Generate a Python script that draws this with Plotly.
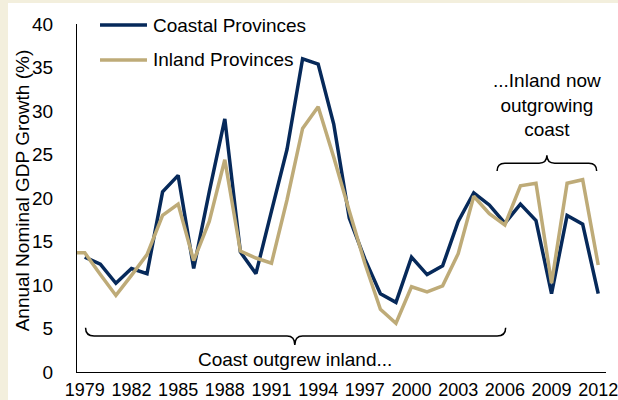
import plotly.graph_objects as go

# ==========================================================
# DATA
# ==========================================================
years = list(range(1978, 2013))
coastal = [None, 13.2, 12.4, 10.2, 11.9, 11.3, 20.7, 22.6, 11.9, 20.7, 29.1,
           13.8, 11.3, 18.5, 25.6, 36.0, 35.4, 28.5, 17.7, 13.0, 9.0,
           8.0, 13.2, 11.2, 12.2, 17.3, 20.6, 19.2, 17.1, 19.3, 17.4,
           9.0, 18.0, 17.0, 9.0]
inland = [13.7, 13.7, 11.2, 8.8, 11.1, 13.5, 18.0, 19.3, 12.8, 17.3, 24.4,
          13.9, 13.1, 12.5, 19.8, 28.0, 30.5, 24.7, 18.5, 12.5, 7.2,
          5.6, 9.8, 9.2, 9.9, 13.6, 20.2, 18.2, 16.9, 21.4, 21.7,
          10.2, 21.7, 22.1, 12.3]
tick_years = list(range(1979, 2013, 3))
y_ticks = [0, 5, 10, 15, 20, 25, 30, 35, 40]

NAVY = "#06295A"
GOLD = "#BEAB78"
CREAM = "#F3EFDD"
FONT = "Liberation Sans, Arial, sans-serif"
FS = 19

fig = go.Figure()

fig.add_trace(go.Scatter(
    x=years, y=coastal, mode="lines", name="Coastal Provinces",
    line=dict(color=NAVY, width=3.5), connectgaps=False
))
fig.add_trace(go.Scatter(
    x=years, y=inland, mode="lines", name="Inland Provinces",
    line=dict(color=GOLD, width=3.5)
))

# legend drawn by hand (keeps margins fixed)
for name, color, ly in [("Coastal Provinces", NAVY, 0.9971),
                        ("Inland Provinces", GOLD, 0.8966)]:
    fig.add_shape(type="line", xref="paper", yref="paper",
                  x0=0.0435, x1=0.1323, y0=ly, y1=ly,
                  line=dict(color=color, width=3.5))
    fig.add_annotation(x=0.1399, y=ly, xref="paper", yref="paper", showarrow=False,
                       xanchor="left", yanchor="middle", text=name,
                       font=dict(size=FS, color="black", family=FONT))

# braces
fig.add_shape(type="path", xref="x", yref="y",
              path="M 1979.05,5.1 Q 1979.05,4.15 1979.6,4.15 L 1992.0,4.15 "
                   "Q 1992.5,4.15 1992.5,3.1 Q 1992.5,4.15 1993.0,4.15 "
                   "L 2005.5,4.15 Q 2006.05,4.15 2006.05,5.1",
              line=dict(color="black", width=1.5))
fig.add_shape(type="path", xref="x", yref="y",
              path="M 2005.5,23.1 Q 2005.5,24.0 2006.0,24.0 L 2008.2,24.0 "
                   "Q 2008.7,24.0 2008.7,24.9 Q 2008.7,24.0 2009.2,24.0 "
                   "L 2011.4,24.0 Q 2011.9,24.0 2011.9,23.1",
              line=dict(color="black", width=1.5))

fig.add_annotation(x=1992.5, y=1.38, xref="x", yref="y", showarrow=False,
                   text="Coast outgrew inland...",
                   font=dict(size=FS, color="black", family=FONT))
fig.add_annotation(x=2008.7, y=30.7, xref="x", yref="y", showarrow=False,
                   text="...Inland now<br>outgrowing<br>coast", align="center",
                   font=dict(size=FS, color="black", family=FONT))

# y title
fig.add_annotation(x=-0.104, y=0.522, xref="paper", yref="paper", showarrow=False,
                   xanchor="center", yanchor="middle",
                   text="Annual Nominal GDP Growth (%)", textangle=-90,
                   font=dict(size=FS, color="black", family=FONT))

# cream frame strips
fig.add_shape(type="rect", xref="paper", yref="paper", layer="below",
              x0=-0.1456, x1=-0.1304, y0=-0.081, y1=1.07,
              fillcolor=CREAM, line=dict(width=0))
fig.add_shape(type="rect", xref="paper", yref="paper", layer="below",
              x0=-0.1456, x1=1.03, y0=1.0603, y1=1.07,
              fillcolor=CREAM, line=dict(width=0))

fig.update_xaxes(
    range=[1978.5, 2012.5], tickvals=tick_years, ticks="", automargin=False,
    showline=True, linecolor="black", linewidth=1, showgrid=False,
    zeroline=False, ticklabelstandoff=1, ticklabeloverflow="allow",
    tickfont=dict(size=18, color="black", family=FONT)
)
fig.update_yaxes(
    range=[0, 40], tickvals=y_ticks, ticks="", automargin=False,
    showline=True, linecolor="black", linewidth=1, showgrid=False,
    zeroline=False, ticklabelstandoff=19,
    tickfont=dict(size=FS, color="black", family=FONT)
)

fig.update_layout(
    width=618, height=400,
    margin=dict(l=77, r=12, t=24, b=28),
    paper_bgcolor="white", plot_bgcolor="white",
    font=dict(family=FONT, size=FS, color="black"),
    showlegend=False
)

fig.write_html("out.html", config={"displayModeBar": False},
               post_script="document.body.style.margin = '0';")
